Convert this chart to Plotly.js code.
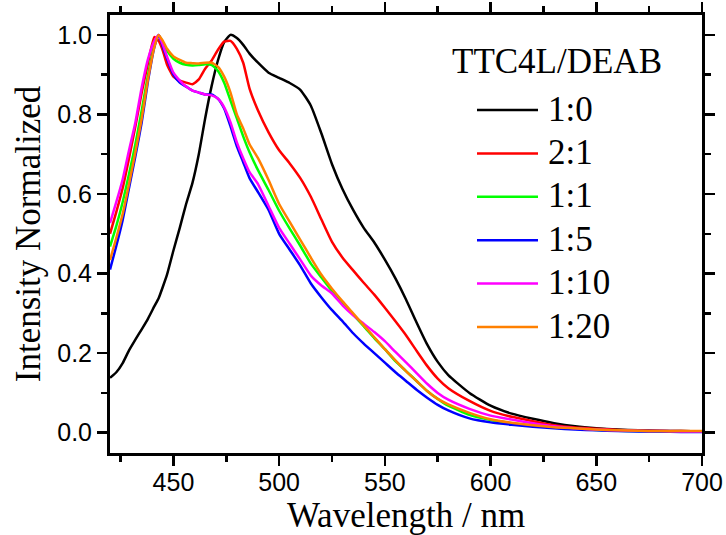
<!DOCTYPE html>
<html>
<head>
<meta charset="utf-8">
<script src="https://cdn.plot.ly/plotly-3.0.1.min.js"></script>
<style>html,body{margin:0;padding:0;background:#fff;}#chart{width:726px;height:535px;}</style>
</head>
<body>
<div id="chart"></div>
<script>
const wavelength = [420,423,426,429,432,435,438,441,443,445,447,450,453,456,459,462,465,468,471,474,477,480,483,486,490,495,500,505,510,515,520,525,530,535,540,545,550,555,560,565,570,575,580,590,600,610,620,630,640,650,660,670,680,690,700];

const ratio_1_0 = [0.138,0.152,0.175,0.207,0.234,0.26,0.287,0.318,0.338,0.367,0.398,0.458,0.515,0.575,0.628,0.70,0.79,0.87,0.935,0.982,1.0,0.992,0.975,0.953,0.93,0.905,0.892,0.879,0.862,0.822,0.752,0.675,0.612,0.56,0.515,0.478,0.435,0.388,0.335,0.277,0.222,0.178,0.145,0.10,0.068,0.048,0.035,0.024,0.016,0.011,0.008,0.006,0.005,0.004,0.003];

const ratio_2_1 = [0.50,0.555,0.615,0.69,0.77,0.855,0.93,0.995,0.985,0.96,0.925,0.895,0.885,0.88,0.876,0.888,0.915,0.935,0.962,0.983,0.985,0.965,0.93,0.865,0.81,0.755,0.71,0.677,0.64,0.593,0.536,0.48,0.44,0.408,0.377,0.347,0.314,0.28,0.245,0.206,0.168,0.136,0.112,0.08,0.055,0.04,0.029,0.019,0.013,0.01,0.007,0.005,0.004,0.004,0.003];

const ratio_1_1 = [0.468,0.52,0.58,0.65,0.725,0.81,0.90,0.975,1.0,0.98,0.96,0.94,0.93,0.925,0.923,0.924,0.926,0.925,0.91,0.88,0.835,0.79,0.745,0.705,0.66,0.61,0.558,0.513,0.47,0.425,0.39,0.356,0.325,0.297,0.268,0.238,0.21,0.18,0.155,0.13,0.105,0.085,0.068,0.045,0.032,0.024,0.018,0.013,0.01,0.007,0.005,0.004,0.003,0.003,0.003];

const ratio_1_5 = [0.41,0.47,0.535,0.615,0.695,0.78,0.885,0.97,1.0,0.97,0.94,0.90,0.88,0.87,0.86,0.855,0.85,0.85,0.84,0.815,0.77,0.72,0.68,0.64,0.605,0.56,0.50,0.46,0.42,0.375,0.34,0.308,0.28,0.25,0.224,0.20,0.176,0.152,0.13,0.108,0.088,0.07,0.056,0.036,0.026,0.02,0.015,0.011,0.008,0.006,0.004,0.003,0.003,0.002,0.002];

const ratio_1_10 = [0.527,0.58,0.637,0.71,0.78,0.868,0.94,0.985,1.0,0.975,0.945,0.905,0.885,0.87,0.86,0.855,0.85,0.848,0.84,0.818,0.78,0.73,0.69,0.655,0.625,0.57,0.515,0.475,0.435,0.395,0.37,0.35,0.32,0.295,0.274,0.253,0.23,0.203,0.177,0.15,0.123,0.10,0.083,0.06,0.043,0.033,0.024,0.016,0.011,0.008,0.006,0.005,0.004,0.003,0.003];

const ratio_1_20 = [0.434,0.49,0.55,0.625,0.705,0.79,0.89,0.97,1.0,0.985,0.965,0.946,0.937,0.93,0.929,0.928,0.93,0.93,0.92,0.895,0.855,0.80,0.765,0.725,0.69,0.635,0.575,0.53,0.485,0.44,0.397,0.362,0.33,0.30,0.27,0.24,0.21,0.182,0.155,0.13,0.105,0.085,0.071,0.05,0.034,0.025,0.019,0.014,0.011,0.008,0.006,0.005,0.004,0.004,0.004];

const seriesNames = ['1:0','2:1','1:1','1:5','1:10','1:20'];
const seriesValues = [ratio_1_0, ratio_2_1, ratio_1_1, ratio_1_5, ratio_1_10, ratio_1_20];
const seriesColors = ['#000000','#ff0000','#00ff00','#0000ff','#ff00ff','#ff8000'];
const legendTitle = 'TTC4L/DEAB';
const xTickVals = [450,500,550,600,650,700];
const yTickVals = [0.0,0.2,0.4,0.6,0.8,1.0];

const serif = 'Liberation Serif, Times New Roman, serif';
const sans = 'Liberation Sans, Arial, sans-serif';

const W = 726, H = 535;
const M = {l: 110, r: 24, t: 15, b: 82};
const plotW = W - M.l - M.r, plotH = H - M.t - M.b;
const px = p => (p - M.l) / plotW;       // pixel x -> paper x
const py = p => (H - M.b - p) / plotH;   // pixel y -> paper y

const traces = seriesNames.map((n, i) => ({
  type: 'scatter', mode: 'lines', name: n,
  x: wavelength, y: seriesValues[i],
  line: {color: seriesColors[i], width: 2.5, shape: 'spline', smoothing: 0.5}
}));

// Legend drawn as shapes + annotations (Origin-style legend box)
const legendShapes = [], legendAnns = [];
const legTop = 110, legStep = 43.4;
seriesNames.forEach((n, i) => {
  const yy = legTop + i * legStep;
  legendShapes.push({type: 'line', xref: 'paper', yref: 'paper',
    x0: px(477), x1: px(538), y0: py(yy), y1: py(yy),
    line: {color: seriesColors[i], width: 2.5}});
  legendAnns.push({xref: 'paper', yref: 'paper', x: px(546), y: py(yy - 1),
    xanchor: 'left', yanchor: 'middle', showarrow: false, text: n,
    font: {family: serif, size: 35, color: '#000'}});
});
legendAnns.push({xref: 'paper', yref: 'paper', x: px(450), y: py(61),
  xanchor: 'left', yanchor: 'middle', showarrow: false, text: legendTitle,
  font: {family: serif, size: 35, color: '#000'}});

const axisCommon = {
  showline: true, linewidth: 3, linecolor: '#000', mirror: 'ticks',
  ticks: 'outside', ticklen: 10, tickwidth: 2.5, tickcolor: '#000',
  showgrid: false, zeroline: false,
  tickfont: {family: sans, size: 25, color: '#000'}
};

const layout = {
  width: W, height: H,
  margin: M,
  paper_bgcolor: '#fff', plot_bgcolor: '#fff',
  showlegend: false,
  xaxis: Object.assign({}, axisCommon, {
    range: [420, 700], tickvals: xTickVals, ticklabelstandoff: -5,
    minor: {dtick: 25, tick0: 425, ticks: 'outside', ticklen: 6, tickwidth: 2.5, tickcolor: '#000'},
    title: {text: 'Wavelength / nm', font: {family: serif, size: 35, color: '#000'}, standoff: 16}
  }),
  yaxis: Object.assign({}, axisCommon, {
    range: [-0.051, 1.05], tickvals: yTickVals, tickformat: '.1f',
    minor: {dtick: 0.1, tick0: 0, ticks: 'outside', ticklen: 6, tickwidth: 2.5, tickcolor: '#000'},
    title: {text: 'Intensity Normalized', font: {family: serif, size: 35, color: '#000'}, standoff: 6}
  }),
  shapes: legendShapes,
  annotations: legendAnns
};

Plotly.newPlot('chart', traces, layout, {displayModeBar: false, staticPlot: true});
</script>
</body>
</html>
